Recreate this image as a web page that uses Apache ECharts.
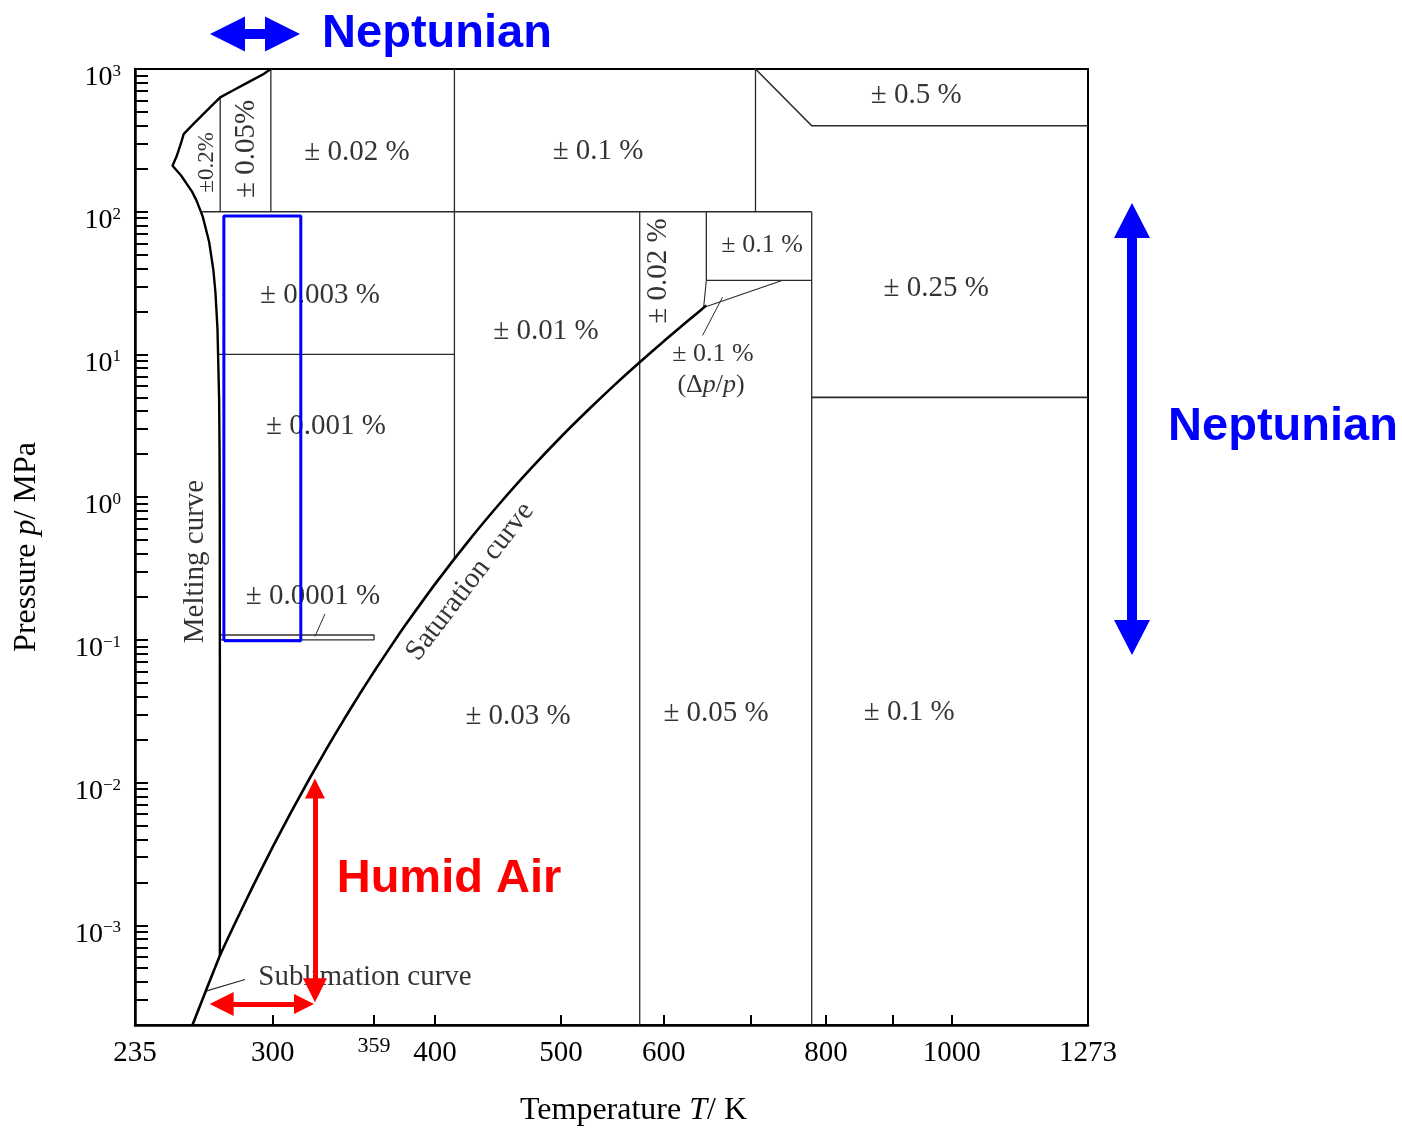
<!DOCTYPE html>
<html>
<head>
<meta charset="utf-8">
<script src="https://cdn.jsdelivr.net/npm/echarts@6/dist/echarts.min.js"></script>
<style>
html,body{margin:0;padding:0;background:#fff;}
#chart{width:1402px;height:1133px;}
</style>
</head>
<body>
<div id="chart"></div>
<script>
// ---------- axis ranges and ticks (T in K, p in MPa) ----------
const tRange = [235, 1273];
const pRange = [0.0002, 1000];
const tTickValues = [300, 359, 400, 500, 600, 700, 800, 900, 1000];
const tTickLabels = [235, 300, 359, 400, 500, 600, 800, 1000, 1273];
const pLabelExponents = [-3, -2, -1, 0, 1, 2, 3];
const pMinorMultipliers = [1, 2, 3, 4, 5, 6, 7, 8, 9];

// ---------- phase boundaries ----------
const meltT = [273.16, 273.155, 273.1, 273.0, 272.8, 272.0, 271.0, 270.0, 268.0, 265.0, 262.0, 260.0, 255.0, 251.165, 253.0, 255.0, 256.164, 260.0, 265.0, 270.0, 273.31, 280.0, 285.0, 290.0, 295.0, 299.0];
const meltP = [0.000611657, 0.0679, 0.807, 2.146, 4.80, 15.14, 27.49, 39.32, 61.60, 92.3, 120.57, 138.25, 179.4, 209.9, 244.3, 303.2, 350.1, 402.6, 479.6, 567.5, 632.4, 712.4, 777.0, 845.3, 918.3, 1000];
const vapT = [260.2, 265, 270, 273.16, 280, 290, 300, 310, 320, 330, 340, 350, 360, 373.124, 380, 400, 425, 450, 475, 500, 525, 550, 575, 600, 625, 640, 647.096];
const vapP = [0.0002, 0.0003059, 0.0004701, 0.000611657, 0.0009918, 0.0019200, 0.0035368, 0.0062311, 0.010546, 0.017214, 0.027188, 0.041682, 0.062194, 0.101325, 0.12898, 0.24577, 0.50014, 0.93220, 1.6157, 2.6392, 4.0940, 6.1172, 8.8147, 12.345, 16.947, 20.265, 22.064];

// ---------- region boundaries [T, p] ----------
const bndV1 = [[273.31, 632.4], [273.31, 100]];
const bndV2 = [[299, 1000], [299, 100]];
const bndV3 = [[414, 1000], [414, 0.3696]];
const bndV4 = [[575, 100], [575, 0.0002]];
const bndV5 = [[647.1, 100], [647.1, 33]];
const bndV6 = [[706, 1000], [706, 100]];
const bndV7 = [[780, 100], [780, 0.0002]];
const bndH100 = [[264.2, 100], [780, 100]];
const bndH10 = [[272.4, 10], [414, 10]];
const bndH33 = [[647.1, 33], [780, 33]];
const bndH5 = [[780, 5], [1273, 5]];
const bndP400 = [[706, 1000], [780, 400], [1273, 400]];
const bndCritA = [[647.1, 33], [644, 21.3]];
const bndCritB = [[740, 33], [644, 21.3]];
const bndBand = [[273.16, 0.1], [359, 0.1], [359, 0.108], [273.16, 0.108]];
const leaderSub = [[285.6, 0.000417], [266.9, 0.000347]];
const leaderBand = [[329.1, 0.152], [323.3, 0.1055]];
const leaderCrit = [[642.8, 13.6], [666, 25.2]];

// ---------- region labels ----------
const labelTexts = ['± 0.02 %', '± 0.1 %', '± 0.5 %', '± 0.003 %', '± 0.01 %', '± 0.1 %', '± 0.25 %', '± 0.001 %', '± 0.1 %', '(Δ{i|p}/{i|p})', '± 0.0001 %', '± 0.03 %', '± 0.05 %', '± 0.1 %', '±0.2%', '± 0.05%', '± 0.02 %', 'Melting curve', 'Saturation curve', 'Sublimation curve'];
const labelT = [348.3, 534.1, 938.8, 326.2, 487.0, 714.3, 972.6, 329.7, 654.8, 652.5, 322.2, 463.5, 658.4, 927.2, 267.2, 286.5, 593.9, 261.4, 425.7, 353.3];
const labelP = [262.4, 266.7, 648.6, 26.03, 14.55, 58.4, 29.15, 3.134, 10.03, 6.08, 0.201, 0.02891, 0.03034, 0.03084, 221.4, 275.4, 38.37, 0.3538, 0.2561, 0.000433];
// styles for the labels (kept apart from the values)
const labelRotate = [0, 0, 0, 0, 0, 0, 0, 0, 0, 0, 0, 0, 0, 0, 90, 90, 90, 90, 52.5, 0];
const labelSize = [29, 29, 29, 29, 29, 26, 29, 29, 26, 26, 29, 29, 29, 29, 23, 29, 29, 29, 29, 29];

// ---------- annotations (data coords) ----------
const blueBox = [[275.1, 0.0986], [315.3, 0.0986], [315.3, 93.3], [275.1, 93.3], [275.1, 0.0986]];
const humidVertical = [[323.3, 0.000351], [323.3, 0.00908]];
const humidHorizontal = [[274.0, 0.000281], [317.1, 0.000281]];

const lg = Math.log10;
const toXY = arr => arr.map(d => [lg(d[0]), lg(d[1])]);
const zip = (a, b) => a.map((t, i) => [t, b[i]]);

const serif = '"Liberation Serif", "Times New Roman", serif';
const sans = '"Liberation Sans", Arial, sans-serif';

const pTickValues = [];
for (let e = -4; e <= 2; e++) {
  pMinorMultipliers.forEach(m => {
    const v = m * Math.pow(10, e);
    if (v > pRange[0] * 1.01 && v <= pRange[1]) pTickValues.push(lg(v));
  });
}
pTickValues.push(3);

function thin(data, w, c) {
  return {
    type: 'line', data: toXY(data), showSymbol: false, symbol: 'none', silent: true,
    lineStyle: { color: c || '#2a2a2a', width: w || 1.3 }, z: 2
  };
}

const series = [
  thin(bndV1), thin(bndV2), thin(bndV3), thin(bndV4), thin(bndV5), thin(bndV6), thin(bndV7),
  thin(bndH100, 1.6), thin(bndH10, 1.4), thin(bndH33, 1.4), thin(bndH5, 1.6), thin(bndP400, 1.6),
  thin(bndCritA, 1.1), thin(bndCritB, 1.1), thin(bndBand, 1.4, '#333'),
  thin(leaderSub, 1.1), thin(leaderBand, 1.0), thin(leaderCrit, 1.0),
  {
    type: 'line', data: toXY(zip(meltT, meltP)), showSymbol: false, symbol: 'none', silent: true,
    lineStyle: { color: '#000', width: 2.4 }, z: 3
  },
  {
    type: 'line', data: toXY(zip(vapT, vapP)), showSymbol: false, symbol: 'none', silent: true, smooth: 0.2,
    lineStyle: { color: '#000', width: 2.6 }, z: 3
  },
  {
    type: 'scatter', silent: true, symbolSize: 1, itemStyle: { color: 'rgba(0,0,0,0)' }, z: 4,
    data: labelTexts.map((t, i) => ({
      value: [lg(labelT[i]), lg(labelP[i])],
      label: { formatter: t, rotate: labelRotate[i], fontSize: labelSize[i] }
    })),
    label: {
      show: true, position: 'inside', color: '#000', fontFamily: serif,
      align: 'center', verticalAlign: 'middle',
      rich: { i: { fontStyle: 'italic', fontFamily: serif, fontSize: 26, color: '#000' } }
    }
  },
  {
    type: 'line', data: toXY(blueBox), showSymbol: false, symbol: 'none', silent: true,
    lineStyle: { color: '#0000FF', width: 3 }, z: 6
  },
  {
    type: 'lines', coordinateSystem: 'cartesian2d', silent: true, z: 6,
    symbol: ['triangle', 'triangle'], symbolSize: [24, 20],
    lineStyle: { color: '#FF0000', width: 5, opacity: 1 },
    data: [{ coords: toXY(humidVertical) }, { coords: toXY(humidHorizontal) }]
  }
];

const option = {
  animation: false,
  backgroundColor: '#ffffff',
  grid: { left: 135, right: 314, top: 69, bottom: 108, show: true, borderColor: '#000', borderWidth: 2, backgroundColor: 'transparent' },
  xAxis: {
    type: 'value', min: lg(tRange[0]), max: lg(tRange[1]),
    splitLine: { show: false },
    axisLine: { onZero: false, lineStyle: { color: '#000', width: 2.5 } },
    axisTick: { customValues: tTickValues.map(lg), inside: true, length: 10, lineStyle: { color: '#000', width: 2 } },
    axisLabel: {
      customValues: tTickLabels.map(lg), color: '#000', fontFamily: serif, fontSize: 29, lineHeight: 40, margin: 8,
      formatter: v => { const t = Math.round(Math.pow(10, v)); return t === 359 ? '{s|359}' : String(t); },
      rich: { s: { fontSize: 22, lineHeight: 26, fontFamily: serif, color: '#000' } }
    },
    name: 'Temperature {i|T}/ K', nameLocation: 'middle', nameGap: 70,
    nameTextStyle: {
      color: '#000', fontFamily: serif, fontSize: 32, padding: [0, 0, 0, 44],
      rich: { i: { fontStyle: 'italic', fontFamily: serif, fontSize: 32, color: '#000' } }
    }
  },
  yAxis: {
    type: 'value', min: lg(pRange[0]), max: lg(pRange[1]),
    splitLine: { show: false },
    axisLine: { onZero: false, lineStyle: { color: '#000', width: 2.5 } },
    axisTick: { customValues: pTickValues, inside: true, length: 13, lineStyle: { color: '#000', width: 2 } },
    axisLabel: {
      customValues: pLabelExponents, margin: 14, padding: [18, 0, 0, 0],
      formatter: v => { const e = Math.round(v); return '{b|10}{s|' + (e < 0 ? '−' + (-e) : e) + '}'; },
      rich: {
        b: { fontSize: 28, lineHeight: 30, fontFamily: serif, color: '#000' },
        s: { fontSize: 17, lineHeight: 17, fontFamily: serif, color: '#000', verticalAlign: 'top' }
      }
    },
    name: 'Pressure {i|p}/ MPa', nameLocation: 'middle', nameGap: 92, nameRotate: 90,
    nameTextStyle: {
      color: '#000', fontFamily: serif, fontSize: 32,
      rich: { i: { fontStyle: 'italic', fontFamily: serif, fontSize: 32, color: '#000' } }
    }
  },
  graphic: [
    { type: 'polygon', silent: true, shape: { points: [[210, 34], [245, 16.5], [245, 29], [265, 29], [265, 16.5], [300, 34], [265, 51.5], [265, 39], [245, 39], [245, 51.5]] }, style: { fill: '#0000FF' } },
    { type: 'polygon', silent: true, shape: { points: [[1132, 203], [1150, 238], [1137, 238], [1137, 620], [1150, 620], [1132, 655], [1114, 620], [1127, 620], [1127, 238], [1114, 238]] }, style: { fill: '#0000FF' } },
    { type: 'text', silent: true, x: 437, y: 34, style: { text: 'Neptunian', font: 'bold 47px ' + sans, fill: '#0000FF', align: 'center', verticalAlign: 'middle' } },
    { type: 'text', silent: true, x: 1283, y: 427, style: { text: 'Neptunian', font: 'bold 47px ' + sans, fill: '#0000FF', align: 'center', verticalAlign: 'middle' } },
    { type: 'text', silent: true, x: 449, y: 879, style: { text: 'Humid Air', font: 'bold 47px ' + sans, fill: '#FF0000', align: 'center', verticalAlign: 'middle' } }
  ],
  series: series
};

const chart = echarts.init(document.getElementById('chart'), null, { renderer: 'canvas' });
chart.setOption(option);
</script>
</body>
</html>
